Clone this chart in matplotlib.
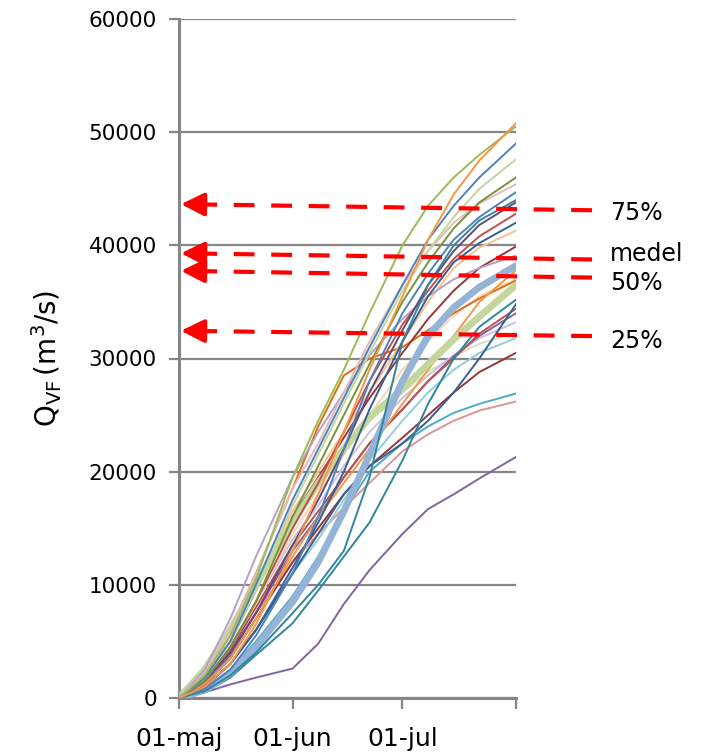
import numpy as np
import matplotlib
matplotlib.use("Agg")
import matplotlib.pyplot as plt
import matplotlib.dates as mdates

# ---- data -------------------------------------------------------------
start_date = "2000-05-01"
day_offsets = [0, 7, 14, 21, 31, 38, 45, 52, 61, 68, 75, 82, 92]

s01 = [0, 1000, 3000, 6500, 13000, 18000, 23500, 29000, 35500, 40500, 44500, 47500, 50800]
s02 = [0, 2000, 5500, 10500, 19500, 24500, 29000, 34000, 40000, 43500, 46000, 48000, 50500]
s03 = [0, 1800, 5000, 10000, 17500, 22000, 26500, 31000, 36500, 40500, 43500, 46000, 49000]
s04 = [0, 1800, 5000, 9500, 17000, 21500, 26000, 30500, 36000, 39500, 42500, 45000, 47600]
s05 = [0, 1500, 4500, 8500, 16000, 20500, 25000, 29500, 35000, 38500, 41500, 43800, 46000]
s06 = [0, 2200, 6000, 11000, 18500, 22500, 27000, 31500, 36500, 39500, 42000, 43700, 45400]
s07 = [0, 800, 2500, 5500, 11000, 16000, 22000, 28000, 34000, 37500, 40500, 42500, 44700]
s08 = [0, 600, 2000, 4000, 7500, 10000, 13000, 19500, 31500, 36500, 40000, 42200, 44000]
s09 = [0, 1500, 4000, 7500, 13500, 17500, 22000, 27000, 32500, 36500, 39500, 41800, 43800]
s10 = [0, 1500, 4500, 8500, 15000, 19000, 23500, 28000, 33000, 36000, 38800, 40800, 42800]
s11 = [0, 1000, 3000, 6000, 11500, 15500, 20000, 25500, 31500, 35500, 38500, 40200, 42000]
s12 = [0, 2000, 5500, 10000, 16500, 20000, 23500, 27000, 31500, 35000, 38000, 39800, 41300]
s13 = [0, 1800, 5000, 9500, 16000, 19500, 23000, 26500, 30500, 33500, 36000, 38000, 39900]
s14 = [0, 2500, 7000, 12500, 19500, 23500, 27000, 30300, 33500, 35500, 37000, 38000, 39100]
s15 = [0, 700, 2200, 4500, 8500, 12000, 16500, 21500, 28000, 32000, 34500, 36300, 38200]
s16 = [0, 1200, 3500, 7000, 12500, 16000, 19000, 22000, 26000, 29000, 32000, 35000, 37800]
s17 = [0, 2000, 6000, 11000, 18500, 24000, 28500, 30000, 31000, 32500, 34000, 35300, 36900]
s18 = [0, 2500, 6000, 10000, 15500, 19000, 22000, 24800, 27300, 29500, 31700, 33700, 36500]
s19 = [0, 500, 1800, 3800, 6600, 9500, 12500, 15500, 21000, 26000, 30000, 32800, 35200]
s20 = [0, 1000, 3000, 6000, 11000, 14500, 18000, 20500, 22500, 24500, 27000, 30000, 34800]
s21 = [0, 1500, 4200, 8000, 13500, 16500, 19500, 22500, 25500, 28000, 30000, 32200, 34400]
s22 = [0, 1200, 3800, 7500, 13000, 16000, 19500, 22500, 25500, 28000, 30200, 32000, 34000]
s23 = [0, 1500, 4500, 8500, 14000, 17000, 20500, 23500, 26500, 28500, 30300, 31800, 33200]
s24 = [0, 2000, 5500, 10000, 16000, 19000, 22000, 24500, 27000, 28800, 30200, 31300, 32300]
s25 = [0, 1000, 3000, 6000, 11000, 14000, 17500, 21000, 24500, 27000, 29000, 30500, 31800]
s26 = [0, 1200, 3500, 7000, 12000, 15000, 18000, 20500, 23000, 25000, 27000, 28800, 30500]
s27 = [0, 800, 2500, 5000, 9000, 12500, 16500, 20000, 22500, 24000, 25200, 26000, 26900]
s28 = [0, 1300, 4000, 7500, 12000, 14500, 16800, 19000, 21800, 23300, 24500, 25400, 26200]
s29 = [0, 500, 1200, 1800, 2600, 4800, 8300, 11300, 14500, 16700, 18000, 19400, 21300]
s30 = [0, 1500, 4500, 8500, 14500, 18000, 21500, 25000, 29000, 31500, 33800, 35500, 37000]

series = [
    (s29, "#8064A2", 1.4), (s28, "#D99694", 1.4), (s27, "#4BACC6", 1.4),
    (s26, "#953735", 1.4), (s25, "#93CDDD", 1.4), (s24, "#D7E4BD", 1.4),
    (s23, "#CCC1DA", 1.4), (s22, "#8064A2", 1.4), (s21, "#C0504D", 1.4),
    (s20, "#376092", 1.4), (s19, "#31859C", 1.4), (s30, "#FCD5B5", 1.4),
    (s17, "#E46C0A", 1.4), (s16, "#F79646", 1.4), (s13, "#953735", 1.4),
    (s12, "#FAC090", 1.4), (s18, "#C3D69B", 5.0), (s15, "#95B3D7", 5.0),
    (s14, "#B3A2C7", 1.4), (s11, "#376092", 1.4), (s10, "#C0504D", 1.4),
    (s09, "#604A7B", 1.4), (s08, "#31859C", 1.4), (s07, "#4F81BD", 1.4),
    (s06, "#E6B9B8", 1.4), (s05, "#77933C", 1.4), (s04, "#C3D69B", 1.4),
    (s03, "#4F81BD", 1.4), (s02, "#9BBB59", 1.4), (s01, "#F79646", 1.4),
]

y_ticks = [0, 10000, 20000, 30000, 40000, 50000, 60000]
x_tick_offsets = [0, 31, 61, 92]
x_tick_labels = ["01-maj", "01-jun", "01-jul", ""]

marker_labels = ["75%", "medel", "50%", "25%"]
marker_left = [43640, 39300, 37750, 32450]
marker_right = [43100, 38750, 37150, 31980]
marker_text_y = [42900, 39200, 36650, 31550]

# ---- figure -----------------------------------------------------------
fig = plt.figure(figsize=(7.04, 7.54), dpi=100)
ax = fig.add_axes([179 / 704, 1 - 698 / 754, 337 / 704, 679 / 754])

base = np.datetime64(start_date)
dates = base + np.array(day_offsets).astype("timedelta64[D]")

for vals, col, lw in series:
    ax.plot(dates, vals, color=col, lw=lw, solid_capstyle="round", zorder=3)

ax.set_ylim(0, 60000)
ax.set_xlim(base, base + np.timedelta64(92, "D"))
ax.set_yticks(y_ticks)
ax.set_yticklabels([str(v) for v in y_ticks])
xt = base + np.array(x_tick_offsets).astype("timedelta64[D]")
ax.set_xticks(xt)
ax.set_xticklabels(x_tick_labels)

grey = "#868686"
ax.grid(axis="y", color=grey, lw=1.6, zorder=1)
ax.set_axisbelow(True)
for side in ["top", "right"]:
    ax.spines[side].set_visible(False)
ax.spines["left"].set_color(grey)
ax.spines["left"].set_linewidth(2.2)
ax.spines["bottom"].set_color(grey)
ax.spines["bottom"].set_linewidth(2.2)
ax.tick_params(axis="y", direction="out", length=7, width=1.6, color=grey,
               labelsize=15.5, pad=9)
ax.tick_params(axis="x", direction="out", length=8, width=1.6, color=grey,
               labelsize=18, pad=13)

ax.set_ylabel(r"$\mathregular{Q_{VF}\,(m^3/s)}$", fontsize=20, labelpad=18)

# ---- red dashed arrows --------------------------------------------------
xnum0 = mdates.date2num(base)
px_per_day = 337 / 92.0
def px_to_x(px):
    return xnum0 + (px - 179) / px_per_day

x_right = px_to_x(592)
x_tip = px_to_x(181)
x_head = px_to_x(199)
x_text = px_to_x(610)
for lab, yl, yr, yt in zip(marker_labels, marker_left, marker_right, marker_text_y):
    y_head = yl + (yr - yl) * (x_head - x_tip) / (x_right - x_tip)
    ax.plot([x_right, x_head], [yr, y_head], color="#FF0000", lw=3,
            ls=(0, (5, 4)), clip_on=False, zorder=6, dash_capstyle="butt")
    ax.annotate("", xy=(x_tip, yl), xytext=(x_head + 0.3, y_head),
                arrowprops=dict(arrowstyle="-|>,head_length=1.4,head_width=0.7",
                                color="#FF0000", lw=3, shrinkA=0, shrinkB=0),
                annotation_clip=False, zorder=7)
    ax.text(x_text, yt, lab, fontsize=17, va="center", ha="left",
            clip_on=False)

fig.savefig("out.png", dpi=100)
